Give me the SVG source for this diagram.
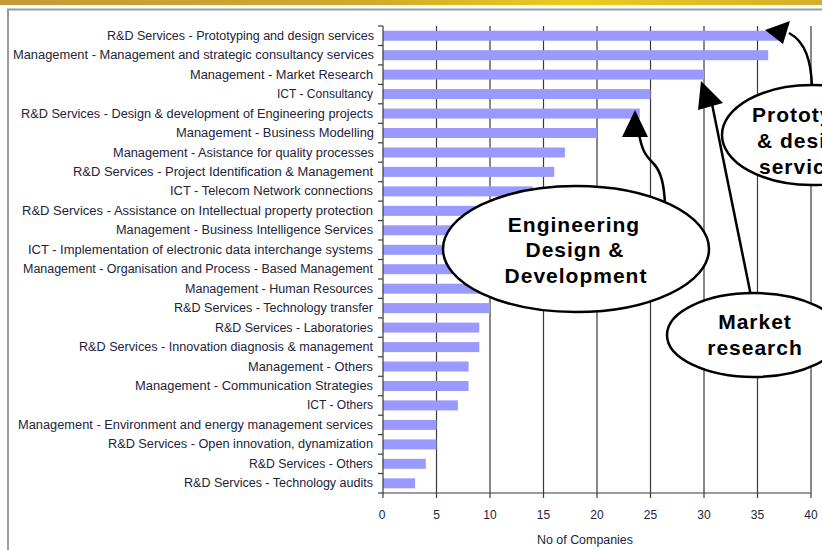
<svg xmlns="http://www.w3.org/2000/svg" width="822" height="550" viewBox="0 0 822 550">
<defs>
<linearGradient id="banner" x1="0" y1="0" x2="1" y2="0">
<stop offset="0" stop-color="#c49a38"/>
<stop offset="0.45" stop-color="#d2a92c"/>
<stop offset="0.7" stop-color="#ebcc1e"/>
<stop offset="1" stop-color="#d6ae2c"/>
</linearGradient>
</defs>
<style>
.lbl{font-family:"Liberation Sans",Arial,sans-serif;font-size:12px;fill:#23233a}
.num{font-family:"Liberation Sans",Arial,sans-serif;font-size:12px;fill:#23233a;text-anchor:middle}
.bar{fill:#9999ff}
.grid{stroke:#3a3a3a;stroke-width:1.2}
.tick{stroke:#3a3a3a;stroke-width:1.2}
.node ellipse{fill:#fff;stroke:#000;stroke-width:2.5}
.node text{font-family:"Liberation Sans",Arial,sans-serif;font-weight:bold;font-size:21px;fill:#000;text-anchor:middle;letter-spacing:1px}
.node text.st{text-anchor:start}
.conn path{fill:none;stroke:#000;stroke-width:2.5}
.head{fill:#000;stroke:none}
</style>
<rect width="822" height="550" fill="#fff"/>
<rect x="0" y="0" width="822" height="5" fill="url(#banner)"/>
<path d="M8,550 V9.5 H822" fill="none" stroke="#9a9a9a" stroke-width="2"/>

<!-- gridlines -->
<g class="grid">
<line x1="436.5" y1="26" x2="436.5" y2="498"/>
<line x1="490" y1="26" x2="490" y2="498"/>
<line x1="543.5" y1="26" x2="543.5" y2="498"/>
<line x1="597" y1="26" x2="597" y2="498"/>
<line x1="650.5" y1="26" x2="650.5" y2="498"/>
<line x1="704" y1="26" x2="704" y2="498"/>
<line x1="757.5" y1="26" x2="757.5" y2="498"/>
<line x1="811" y1="26" x2="811" y2="498"/>
</g>

<!-- bars -->
<g class="bar">
<rect x="383" y="30.7" width="395.9" height="10"/>
<rect x="383" y="50.2" width="385.2" height="10"/>
<rect x="383" y="69.6" width="321" height="10"/>
<rect x="383" y="89.1" width="267.5" height="10"/>
<rect x="383" y="108.6" width="256.8" height="10"/>
<rect x="383" y="128" width="214" height="10"/>
<rect x="383" y="147.5" width="181.9" height="10"/>
<rect x="383" y="166.9" width="171.2" height="10"/>
<rect x="383" y="186.4" width="149.8" height="10"/>
<rect x="383" y="205.9" width="139.1" height="10"/>
<rect x="383" y="225.3" width="128.4" height="10"/>
<rect x="383" y="244.8" width="117.7" height="10"/>
<rect x="383" y="264.2" width="117.7" height="10"/>
<rect x="383" y="283.7" width="107" height="10"/>
<rect x="383" y="303.1" width="107" height="10"/>
<rect x="383" y="322.6" width="96.3" height="10"/>
<rect x="383" y="342.1" width="96.3" height="10"/>
<rect x="383" y="361.5" width="85.6" height="10"/>
<rect x="383" y="381" width="85.6" height="10"/>
<rect x="383" y="400.4" width="74.9" height="10"/>
<rect x="383" y="419.9" width="53.5" height="10"/>
<rect x="383" y="439.4" width="53.5" height="10"/>
<rect x="383" y="458.8" width="42.8" height="10"/>
<rect x="383" y="478.3" width="32.1" height="10"/>
</g>

<!-- axes -->
<g class="tick">
<line x1="383" y1="26" x2="383" y2="493"/>
<line x1="383" y1="493" x2="811" y2="493"/>
<line x1="383" y1="493" x2="383" y2="498"/>
<line x1="378" y1="26" x2="383" y2="26"/>
<line x1="378" y1="45.5" x2="383" y2="45.5"/>
<line x1="378" y1="64.9" x2="383" y2="64.9"/>
<line x1="378" y1="84.4" x2="383" y2="84.4"/>
<line x1="378" y1="103.8" x2="383" y2="103.8"/>
<line x1="378" y1="123.3" x2="383" y2="123.3"/>
<line x1="378" y1="142.8" x2="383" y2="142.8"/>
<line x1="378" y1="162.2" x2="383" y2="162.2"/>
<line x1="378" y1="181.7" x2="383" y2="181.7"/>
<line x1="378" y1="201.1" x2="383" y2="201.1"/>
<line x1="378" y1="220.6" x2="383" y2="220.6"/>
<line x1="378" y1="240" x2="383" y2="240"/>
<line x1="378" y1="259.5" x2="383" y2="259.5"/>
<line x1="378" y1="279" x2="383" y2="279"/>
<line x1="378" y1="298.4" x2="383" y2="298.4"/>
<line x1="378" y1="317.9" x2="383" y2="317.9"/>
<line x1="378" y1="337.3" x2="383" y2="337.3"/>
<line x1="378" y1="356.8" x2="383" y2="356.8"/>
<line x1="378" y1="376.3" x2="383" y2="376.3"/>
<line x1="378" y1="395.7" x2="383" y2="395.7"/>
<line x1="378" y1="415.2" x2="383" y2="415.2"/>
<line x1="378" y1="434.6" x2="383" y2="434.6"/>
<line x1="378" y1="454.1" x2="383" y2="454.1"/>
<line x1="378" y1="473.5" x2="383" y2="473.5"/>
<line x1="378" y1="493" x2="383" y2="493"/>
</g>

<!-- category labels -->
<g class="lbl">
<text x="107" y="39.7" textLength="267" lengthAdjust="spacingAndGlyphs">R&amp;D Services - Prototyping and design services</text>
<text x="13" y="59.2" textLength="361" lengthAdjust="spacingAndGlyphs">Management - Management and strategic consultancy services</text>
<text x="190" y="78.7" textLength="183" lengthAdjust="spacingAndGlyphs">Management - Market Research</text>
<text x="277" y="98.1" textLength="96" lengthAdjust="spacingAndGlyphs">ICT - Consultancy</text>
<text x="21" y="117.6" textLength="352" lengthAdjust="spacingAndGlyphs">R&amp;D Services - Design &amp; development of Engineering projects</text>
<text x="176" y="137" textLength="198" lengthAdjust="spacingAndGlyphs">Management - Business Modelling</text>
<text x="113" y="156.5" textLength="261" lengthAdjust="spacingAndGlyphs">Management - Asistance for quality processes</text>
<text x="73" y="175.9" textLength="300" lengthAdjust="spacingAndGlyphs">R&amp;D Services - Project Identification &amp; Management</text>
<text x="170" y="195.4" textLength="203" lengthAdjust="spacingAndGlyphs">ICT - Telecom Network connections</text>
<text x="22" y="214.9" textLength="351" lengthAdjust="spacingAndGlyphs">R&amp;D Services - Assistance on Intellectual property protection</text>
<text x="116" y="234.3" textLength="257" lengthAdjust="spacingAndGlyphs">Management - Business Intelligence Services</text>
<text x="28" y="253.8" textLength="345" lengthAdjust="spacingAndGlyphs">ICT - Implementation of electronic data interchange systems</text>
<text x="23" y="273.2" textLength="350" lengthAdjust="spacingAndGlyphs">Management - Organisation and Process - Based Management</text>
<text x="185" y="292.7" textLength="188" lengthAdjust="spacingAndGlyphs">Management - Human Resources</text>
<text x="174" y="312.1" textLength="199" lengthAdjust="spacingAndGlyphs">R&amp;D Services - Technology transfer</text>
<text x="215" y="331.6" textLength="158" lengthAdjust="spacingAndGlyphs">R&amp;D Services - Laboratories</text>
<text x="79" y="351.1" textLength="294" lengthAdjust="spacingAndGlyphs">R&amp;D Services - Innovation diagnosis &amp; management</text>
<text x="248" y="370.5" textLength="125" lengthAdjust="spacingAndGlyphs">Management - Others</text>
<text x="135" y="390" textLength="238" lengthAdjust="spacingAndGlyphs">Management - Communication Strategies</text>
<text x="307" y="409.4" textLength="66" lengthAdjust="spacingAndGlyphs">ICT - Others</text>
<text x="18" y="428.9" textLength="355" lengthAdjust="spacingAndGlyphs">Management - Environment and energy management services</text>
<text x="108" y="448.4" textLength="265" lengthAdjust="spacingAndGlyphs">R&amp;D Services - Open innovation, dynamization</text>
<text x="249" y="467.8" textLength="124" lengthAdjust="spacingAndGlyphs">R&amp;D Services - Others</text>
<text x="184" y="487.3" textLength="189" lengthAdjust="spacingAndGlyphs">R&amp;D Services - Technology audits</text>
</g>

<!-- x axis numbers -->
<g class="num">
<text x="382" y="519">0</text>
<text x="436.5" y="519">5</text>
<text x="490" y="519">10</text>
<text x="543.5" y="519">15</text>
<text x="597" y="519">20</text>
<text x="650.5" y="519">25</text>
<text x="704" y="519">30</text>
<text x="757.5" y="519">35</text>
<text x="811" y="519">40</text>
<text x="585" y="544" textLength="96" lengthAdjust="spacingAndGlyphs">No of Companies</text>
</g>

<!-- connectors -->
<g id="connectors" class="conn">
<path d="M665,203 C664,187 662,172 653,163 C645,155 642,150 639,134"/>
<polygon class="head" points="635,110 622,137 648,137"/>
<path d="M751,296 L712,104"/>
<polygon class="head" points="701,81 698,110 723,103"/>
<path d="M812,86 C811,62 806,42 789,33"/>
<polygon class="head" points="765,30 790,21 783,44"/>
</g>

<!-- callout nodes -->
<g id="node-engineering" class="node">
<ellipse cx="576" cy="249" rx="133" ry="63"/>
<text x="574" y="232">Engineering</text>
<text x="575" y="257">Design &amp;</text>
<text x="576" y="283">Development</text>
</g>
<g id="node-prototyping" class="node">
<ellipse cx="812" cy="135" rx="90" ry="50"/>
<text class="st" x="752" y="122">Prototyping</text>
<text class="st" x="757" y="148">&amp; design</text>
<text class="st" x="759" y="174">services</text>
</g>
<g id="node-market" class="node">
<ellipse cx="754" cy="335" rx="87" ry="42"/>
<text x="755" y="329">Market</text>
<text x="755" y="355">research</text>
</g>
</svg>
